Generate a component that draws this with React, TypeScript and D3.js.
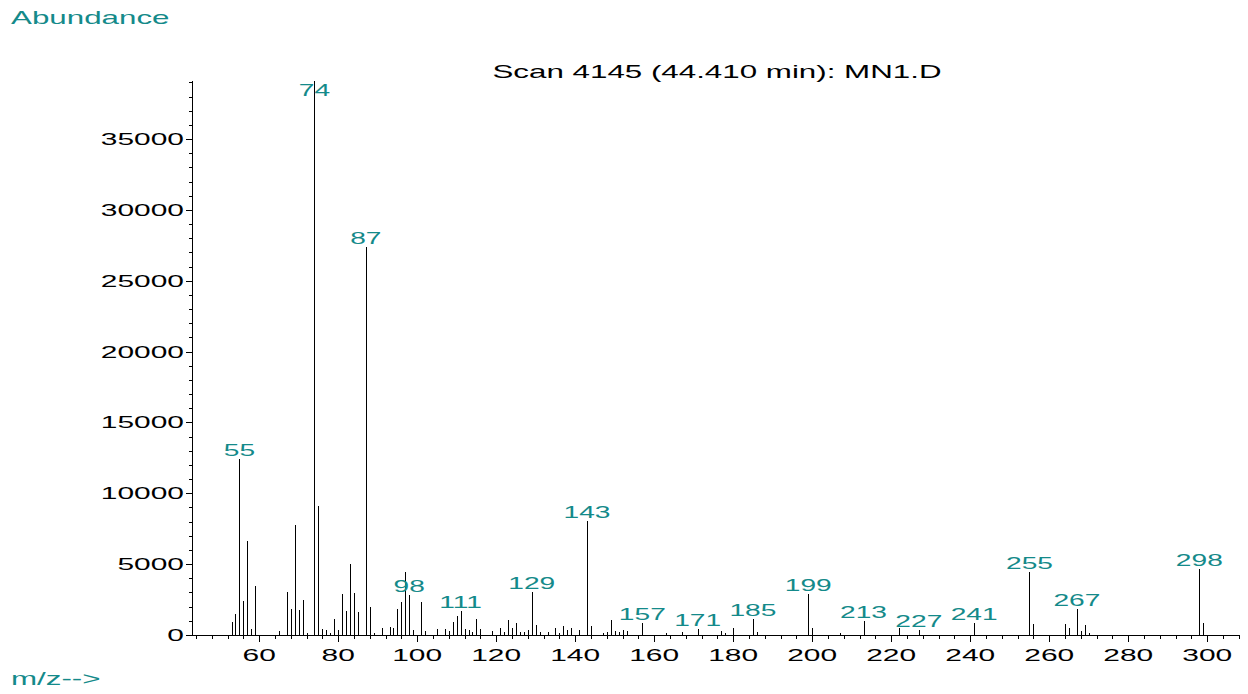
import * as d3 from "d3";

// m/z and abundance
const mzValues = [
  53, 54, 55, 56, 57, 58, 59, 65, 67, 68, 69, 70, 71, 72, 74, 75, 76, 77, 78, 79,
  80, 81, 82, 83, 84, 85, 87, 88, 89, 91, 93, 94, 95, 96, 97, 98, 99, 101, 102, 105,
  107, 108, 109, 110, 111, 112, 113, 114, 115, 116, 119, 121, 122, 123, 124, 125, 126, 127, 128, 129,
  130, 131, 133, 135, 136, 137, 138, 139, 141, 143, 144, 147, 148, 149, 150, 151, 152, 153, 157, 163,
  167, 171, 177, 178, 180, 185, 186, 199, 200, 207, 213, 222, 227, 241, 255, 256, 264, 265, 267, 268,
  269, 270, 298, 299,
];
const abundances = [
  940, 1460, 12420, 2400, 6630, 450, 3480, 280, 3030, 1860, 7740, 1760, 2470, 160, 39100, 9100, 420, 350, 140, 1130,
  380, 2920, 1700, 5010, 2960, 1650, 27400, 1980, 160, 470, 540, 490, 1830, 2350, 4470, 2820, 350, 2350, 260, 400,
  450, 260, 940, 1340, 1720, 420, 350, 210, 1130, 400, 260, 470, 190, 1040, 490, 850, 190, 190, 330, 3060,
  710, 190, 190, 470, 140, 640, 350, 490, 350, 8050, 640, 120, 190, 1040, 280, 190, 330, 260, 870, 140,
  190, 450, 260, 160, 470, 1150, 220, 2920, 490, 120, 960, 490, 350, 850, 4450, 750, 750, 490, 1860, 260,
  710, 140, 4680, 870,
];
const labeledPeaks = [55, 74, 87, 98, 111, 129, 143, 157, 171, 185, 199, 213, 227, 241, 255, 267, 298];
const yTickLabels = [0, 5000, 10000, 15000, 20000, 25000, 30000, 35000];
const xTickLabels = [60, 80, 100, 120, 140, 160, 180, 200, 220, 240, 260, 280, 300];

const TEAL = "#148a8a";
const FONT = "'Liberation Sans', Arial, Helvetica, sans-serif";
const SX = 1.76; // the source picture is stretched horizontally

const W = 1248;
const H = 694;
const left = 192;
const right = 1240;
const top = 81;
const bottom = 635;

function StretchText(props: {
  x: number;
  y: number;
  anchor?: string;
  size: number;
  fill: string;
  children: any;
}) {
  const { x, y, anchor = "start", size, fill, children } = props;
  return (
    <text
      transform={`translate(${x},${y}) scale(${SX},1)`}
      textAnchor={anchor}
      fontSize={size}
      fill={fill}
      fontFamily={FONT}
    >
      {children}
    </text>
  );
}

export default function App() {
  const x = d3.scaleLinear().domain([43, 308.3]).range([left, right]);
  const y = d3.scaleLinear().domain([0, 39100]).range([bottom, top]);

  const peaks = mzValues.map((m, i) => ({ mz: m, v: abundances[i] }));
  const xMinor = d3.range(44, 309, 4);
  const yMinor = d3.range(0, 39001, 1000);

  return (
    <svg
      width={W}
      height={H}
      style={{ position: "absolute", left: 0, top: 0, background: "#fff" }}
    >
      <StretchText x={11} y={24} size={17.8} fill={TEAL}>
        Abundance
      </StretchText>
      <StretchText x={11} y={685} size={17.8} fill={TEAL}>
        m/z--&gt;
      </StretchText>
      <StretchText x={717} y={78} anchor="middle" size={17.8} fill="#000">
        Scan 4145 (44.410 min): MN1.D
      </StretchText>

      {/* axes */}
      <g stroke="#000" strokeWidth={1} shapeRendering="crispEdges">
        <line x1={left + 0.5} x2={left + 0.5} y1={top} y2={bottom + 0.5} />
        <line x1={left} x2={right} y1={bottom + 0.5} y2={bottom + 0.5} />
        {yMinor.map((v) => (
          <line
            key={"ym" + v}
            x1={left - (v % 5000 === 0 ? 6 : 3)}
            x2={left}
            y1={Math.round(y(v)) + 0.5}
            y2={Math.round(y(v)) + 0.5}
          />
        ))}
        {xMinor.map((m) => (
          <line
            key={"xm" + m}
            x1={Math.round(x(m)) + 0.5}
            x2={Math.round(x(m)) + 0.5}
            y1={bottom}
            y2={bottom + (m % 20 === 0 ? 7 : 4)}
          />
        ))}
      </g>

      {yTickLabels.map((v) => (
        <StretchText key={"yl" + v} x={184} y={y(v) + 6} anchor="end" size={17} fill="#000">
          {v}
        </StretchText>
      ))}
      {xTickLabels.map((m) => (
        <StretchText key={"xl" + m} x={x(m)} y={661} anchor="middle" size={17} fill="#000">
          {m}
        </StretchText>
      ))}

      {/* spectrum lines */}
      <g stroke="#000" strokeWidth={1} shapeRendering="crispEdges">
        {peaks.map((p) => (
          <line
            key={"p" + p.mz}
            x1={Math.round(x(p.mz)) + 0.5}
            x2={Math.round(x(p.mz)) + 0.5}
            y1={bottom}
            y2={y(p.v)}
          />
        ))}
      </g>

      {peaks
        .filter((p) => labeledPeaks.includes(p.mz))
        .map((p) => (
          <StretchText
            key={"lab" + p.mz}
            x={x(p.mz)}
            y={Math.max(y(p.v) - 3, top + 15)}
            anchor="middle"
            size={16}
            fill={TEAL}
          >
            {p.mz}
          </StretchText>
        ))}
    </svg>
  );
}
